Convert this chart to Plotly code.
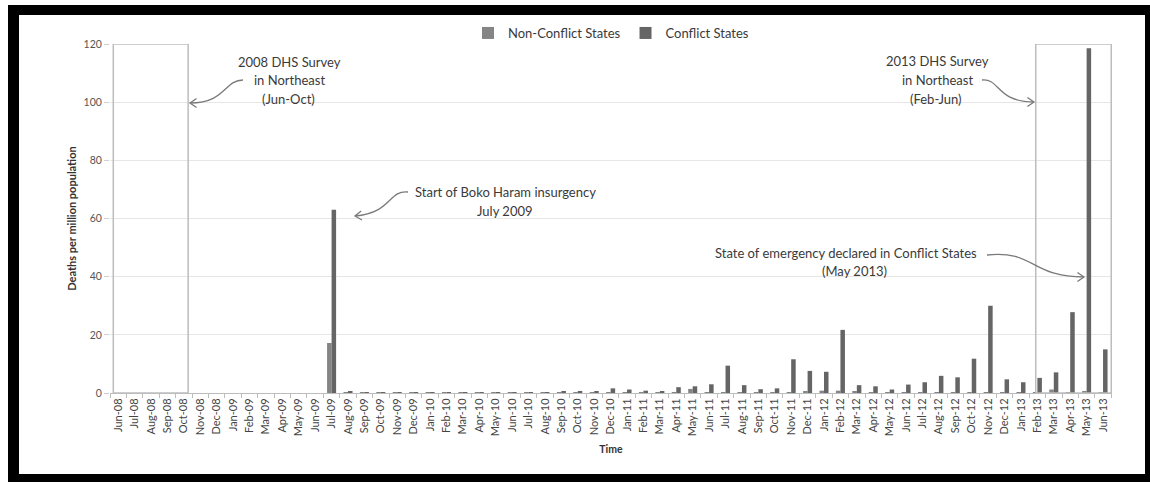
import math
import plotly.graph_objects as go

months = ["Jun-08", "Jul-08", "Aug-08", "Sep-08", "Oct-08", "Nov-08", "Dec-08",
          "Jan-09", "Feb-09", "Mar-09", "Apr-09", "May-09", "Jun-09", "Jul-09",
          "Aug-09", "Sep-09", "Oct-09", "Nov-09", "Dec-09", "Jan-10", "Feb-10",
          "Mar-10", "Apr-10", "May-10", "Jun-10", "Jul-10", "Aug-10", "Sep-10",
          "Oct-10", "Nov-10", "Dec-10", "Jan-11", "Feb-11", "Mar-11", "Apr-11",
          "May-11", "Jun-11", "Jul-11", "Aug-11", "Sep-11", "Oct-11", "Nov-11",
          "Dec-11", "Jan-12", "Feb-12", "Mar-12", "Apr-12", "May-12", "Jun-12",
          "Jul-12", "Aug-12", "Sep-12", "Oct-12", "Nov-12", "Dec-12", "Jan-13",
          "Feb-13", "Mar-13", "Apr-13", "May-13", "Jun-13"]

non_conflict = [0, 0, 0, 0, 0, 0, 0,
                0, 0, 0, 0, 0, 0, 17.2,
                0.2, 0.1, 0.1, 0.1, 0.1, 0.1, 0.1,
                0.1, 0.1, 0.1, 0.1, 0.1, 0.1, 0.2,
                0.2, 0.2, 0.3, 0.3, 0.2, 0.1, 0.3,
                1.4, 0.3, 0.2, 0.3, 0.2, 0.2, 0.3,
                0.5, 0.8, 0.8, 0.4, 0.2, 0.2, 0.2,
                0.3, 0.3, 0.3, 0.3, 0.3, 0.2, 0.2,
                0.3, 1.2, 0.3, 0.5, 0.2]

conflict = [0, 0, 0, 0, 0, 0, 0,
            0, 0, 0, 0, 0, 0, 63.0,
            0.5, 0.3, 0.2, 0.2, 0.1, 0.2, 0.1,
            0.1, 0.2, 0.1, 0.2, 0.1, 0.3, 0.6,
            0.7, 0.6, 1.6, 1.2, 0.8, 0.4, 2.0,
            2.3, 3.0, 9.4, 2.7, 1.3, 1.6, 11.6,
            7.6, 7.3, 21.7, 2.7, 2.3, 1.2, 2.9,
            3.7, 5.9, 5.4, 11.8, 30.0, 4.7, 3.7,
            5.2, 7.1, 27.8, 118.5, 15.0]

y_ticks = [0, 20, 40, 60, 80, 100, 120]

W, H = 1150, 482
L, R, T, B = 110, 38, 44, 89
PW, PH = W - L - R, H - T - B


def px(x):
    return (x - L) / PW


def py(y):
    return (H - B - y) / PH


FONT = "Lato, 'Open Sans', sans-serif"
TXT = "#3a3a3a"

fig = go.Figure()
fig.add_trace(go.Bar(x=months, y=non_conflict, name="Non-Conflict States",
                     marker=dict(color="#858585", line=dict(width=0))))
fig.add_trace(go.Bar(x=months, y=conflict, name="Conflict States",
                     marker=dict(color="#656565", line=dict(width=0))))

shapes = []
# white text-box backgrounds covering gridlines
for (x0, y0, x1, y1) in [(192, 50, 358, 108), (358, 182, 650, 222),
                         (868, 50, 1000, 108), (700, 243, 1000, 282)]:
    shapes.append(dict(type="rect", xref="paper", yref="paper",
                       x0=px(x0), x1=px(x1), y0=py(y1), y1=py(y0),
                       fillcolor="white", line=dict(width=0), layer="between"))

# survey period boxes
shapes.append(dict(type="rect", xref="x", yref="y", x0=-0.3, x1=4.26, y0=0, y1=120,
                   line=dict(color="#bdbdbd", width=1.5), fillcolor="rgba(0,0,0,0)",
                   layer="above"))
shapes.append(dict(type="rect", xref="x", yref="y", x0=55.9, x1=60.5, y0=0, y1=120,
                   line=dict(color="#bdbdbd", width=1.5), fillcolor="rgba(0,0,0,0)",
                   layer="above"))


def arrow(p0, c1, c2, p1, color="#7a7a7a"):
    path = "M {},{} C {},{} {},{} {},{}".format(
        px(p0[0]), py(p0[1]), px(c1[0]), py(c1[1]),
        px(c2[0]), py(c2[1]), px(p1[0]), py(p1[1]))
    shapes.append(dict(type="path", xref="paper", yref="paper", path=path,
                       line=dict(color=color, width=1.3), layer="above"))
    dx, dy = p1[0] - c2[0], p1[1] - c2[1]
    n = math.hypot(dx, dy)
    dx, dy = dx / n, dy / n
    pts = []
    for ang in (math.radians(35), -math.radians(35)):
        rx = dx * math.cos(ang) - dy * math.sin(ang)
        ry = dx * math.sin(ang) + dy * math.cos(ang)
        pts.append((p1[0] - 8 * rx, p1[1] - 8 * ry))
    hp = "M {},{} L {},{} L {},{}".format(
        px(pts[0][0]), py(pts[0][1]), px(p1[0]), py(p1[1]),
        px(pts[1][0]), py(pts[1][1]))
    shapes.append(dict(type="path", xref="paper", yref="paper", path=hp,
                       line=dict(color=color, width=1.3), layer="above"))


arrow((243, 80), (224, 80), (226, 103), (190, 103))
arrow((408, 192), (388, 190), (392, 213), (355, 216))
arrow((982, 80), (1000, 78), (996, 102), (1034, 102))
arrow((987, 255), (1035, 250), (1030, 277), (1084, 277))

# black picture frame
for (x0, y0, x1, y1) in [(8, 5, W, 15), (8, 5, 19, 482), (1145, 5, W, 482),
                         (8, 474, W, 482)]:
    shapes.append(dict(type="rect", xref="paper", yref="paper",
                       x0=px(x0), x1=px(x1), y0=py(y1), y1=py(y0),
                       fillcolor="black", line=dict(width=0), layer="above"))

annotations = []
for (text, cx, cy) in [("2008 DHS Survey", 289, 62), ("in Northeast", 289, 80),
                       ("(Jun-Oct)", 288, 99),
                       ("Start of Boko Haram insurgency", 505, 192),
                       ("July 2009", 505, 211),
                       ("2013 DHS Survey", 937, 61), ("in Northeast", 937, 80),
                       ("(Feb-Jun)", 936, 99),
                       ("State of emergency declared in Conflict States", 846, 253),
                       ("(May 2013)", 854, 271)]:
    annotations.append(dict(text=text, xref="paper", yref="paper",
                            x=px(cx), y=py(cy), xanchor="center", yanchor="middle",
                            showarrow=False, font=dict(family=FONT, size=13, color=TXT)))

fig.update_layout(
    width=W, height=H,
    margin=dict(l=L, r=R, t=T, b=B, pad=0),
    paper_bgcolor="white", plot_bgcolor="white",
    barmode="group", bargap=0.45, bargroupgap=0,
    font=dict(family=FONT, color=TXT),
    showlegend=True,
    legend=dict(orientation="h", x=0.5, xanchor="center", y=py(33), yanchor="middle",
                font=dict(family=FONT, size=13, color=TXT), itemwidth=30,
                bgcolor="rgba(0,0,0,0)", traceorder="normal"),
    xaxis=dict(type="category", categoryorder="array", categoryarray=months,
               tickangle=-90, tickfont=dict(family=FONT, size=11, color="#444"),
               showline=True, linecolor="#bdbdbd", linewidth=1,
               ticks="outside", tickson="boundaries", ticklen=4, tickcolor="#bdbdbd",
               showgrid=False, zeroline=False,
               title=dict(text="<b>Time</b>", font=dict(family=FONT, size=10.5, color="#333"),
                          standoff=10)),
    yaxis=dict(range=[0, 120], tickvals=y_ticks, showgrid=True,
               gridcolor="#e6e6e6", gridwidth=1, zeroline=False, showline=False,
               ticks="outside", ticklen=5, tickcolor="#d0d0d0",
               tickfont=dict(family=FONT, size=10.5, color="#555"),
               title=dict(text="<b>Deaths per million population</b>",
                          font=dict(family=FONT, size=11, color="#333"), standoff=4)),
    shapes=shapes,
    annotations=annotations,
)

fig.write_html("out.html")
